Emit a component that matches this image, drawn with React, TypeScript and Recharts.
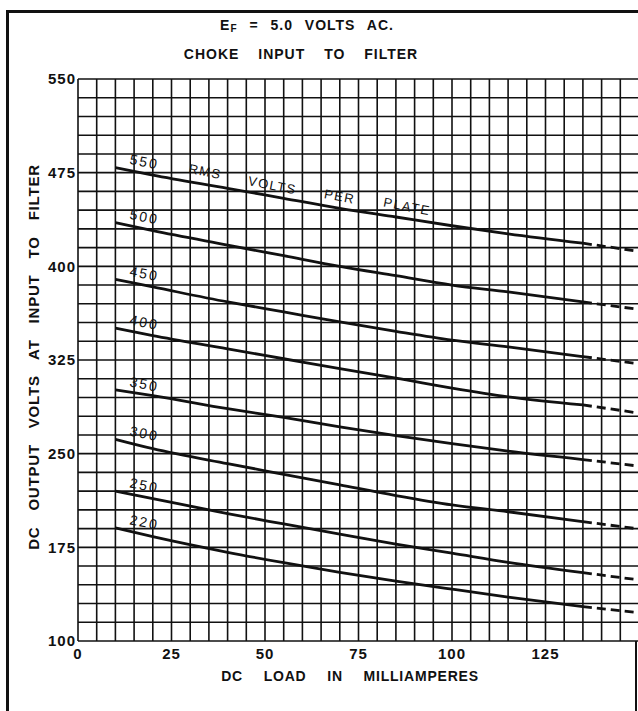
import { LineChart, Line, XAxis, YAxis, CartesianGrid, ReferenceDot, Label, LabelList } from 'recharts'

const loadMa = [10, 20, 40, 55, 70, 85, 100, 115, 135, 150]
// the solid part stops at 135 mA, the rest is dashed
const solidCount = 9

// DC output volts, one list per RMS plate voltage
const v550 = [479, 473, 462.5, 454.5, 446.5, 439.5, 432.5, 426, 418.5, 412]
const v500 = [435, 428.5, 417, 408.5, 400, 392.5, 385, 379.5, 371.5, 365.5]
const v450 = [389.5, 383.5, 371.5, 363.5, 355.5, 348, 341, 335.5, 327.7, 322]
const v400 = [350.5, 344.5, 334, 326, 318, 310.5, 302.5, 295.5, 289, 282.5]
const v350 = [301, 296.5, 286, 279, 271.5, 264.5, 258, 252, 245.3, 240]
const v300 = [261.5, 254, 242, 233.5, 225, 216.5, 209, 203.5, 195.6, 189.7]
const v250 = [220, 214, 202, 193.7, 185.5, 177.5, 170.3, 163, 154.7, 148.9]
const v220 = [190.5, 183.5, 171, 162.7, 155, 148, 141.5, 135.2, 127.5, 122.7]

const rmsVolts = ['550', '500', '450', '400', '350', '300', '250', '220']
const seriesVolts = [v550, v500, v450, v400, v350, v300, v250, v220]

// grid every 5 mA / 15 V, labels every 25 mA / 75 V
const xTicks = [0, 5, 10, 15, 20, 25, 30, 35, 40, 45, 50, 55, 60, 65, 70, 75, 80, 85, 90, 95, 100, 105, 110, 115, 120, 125, 130, 135, 140, 145, 150]
const yTicks = [100, 115, 130, 145, 160, 175, 190, 205, 220, 235, 250, 265, 280, 295, 310, 325, 340, 355, 370, 385, 400, 415, 430, 445, 460, 475, 490, 505, 520, 535, 550]
const xLabels = [0, 25, 50, 75, 100, 125]
const yLabels = [100, 175, 250, 325, 400, 475, 550]

// words written along the 550 V curve (mA, volts)
const captionWords = ['RMS', 'VOLTS', 'PER', 'PLATE']
const captionMa = [34, 52, 70, 88]
const captionV = [476, 465, 456, 448]

const font = "'Liberation Sans', Arial, sans-serif"
const ink = '#111'

const curves = seriesVolts.map((volts, k) => ({
  rms: rmsVolts[k],
  solid: loadMa.slice(0, solidCount).map((ma, i) => ({ ma, v: volts[i] })),
  dashed: loadMa.slice(solidCount - 1).map((ma, i) => ({ ma, v: volts[i + solidCount - 1] })),
}))

const curveTag = (rms: string) => (p: any) => {
  if (p.index !== 0) return null
  const x = p.x + 28
  const y = p.y - 1
  return (
    <text x={x} y={y} transform={`rotate(11 ${x} ${y})`} textAnchor="middle"
      fontFamily={font} fontSize={14} letterSpacing={2} fill={ink}>
      {rms}
    </text>
  )
}

export default function App() {
  return (
    <div style={{ position: 'fixed', left: 0, top: 0, width: 638, height: 711, overflow: 'hidden', background: '#fff' }}>
      <LineChart width={640} height={711} margin={{ top: 79, right: 1, left: 0, bottom: 0 }}>
        <CartesianGrid stroke={ink} strokeWidth={1.6} />
        <XAxis type="number" dataKey="ma" domain={[0, 150]} ticks={xTicks} interval={0} height={70}
          tickFormatter={(v: number) => (xLabels.includes(v) ? String(v) : '')}
          tickSize={0} tickMargin={7} axisLine={false} tickLine={false}
          tick={{ fill: ink, fontSize: 15, fontWeight: 700, fontFamily: font, letterSpacing: 1 }} />
        <YAxis type="number" domain={[100, 550]} ticks={yTicks} interval={0} width={78}
          tickFormatter={(v: number) => (yLabels.includes(v) ? String(v) : '')}
          tickSize={0} tickMargin={2} axisLine={false} tickLine={false}
          tick={{ fill: ink, fontSize: 15, fontWeight: 700, fontFamily: font, letterSpacing: 1 }} />
        {curves.map((c) => (
          <Line key={'s' + c.rms} data={c.solid} dataKey="v" type="monotone" stroke={ink}
            strokeWidth={2.8} dot={false} isAnimationActive={false}>
            <LabelList dataKey="v" content={curveTag(c.rms)} />
          </Line>
        ))}
        {curves.map((c) => (
          <Line key={'d' + c.rms} data={c.dashed} dataKey="v" type="monotone" stroke={ink}
            strokeWidth={2.8} strokeDasharray="9 5" dot={false} isAnimationActive={false} />
        ))}
        {captionWords.map((w, i) => (
          <ReferenceDot key={w} x={captionMa[i]} y={captionV[i]} r={0} fill="none" stroke="none">
            <Label value={w} position="center" angle={11} fill={ink} fontFamily={font}
              fontSize={13} letterSpacing={1.5} />
          </ReferenceDot>
        ))}
      </LineChart>
      <svg width={638} height={711} style={{ position: 'absolute', left: 0, top: 0, pointerEvents: 'none' }}>
        <line x1={7.5} y1={10} x2={7.5} y2={711} stroke={ink} strokeWidth={3} />
        <line x1={6} y1={11.5} x2={638} y2={11.5} stroke={ink} strokeWidth={3} />
        <line x1={636} y1={641} x2={636} y2={711} stroke={ink} strokeWidth={2} />
        <g fontFamily={font} fontWeight={700} fill={ink} style={{ whiteSpace: 'pre' }}>
          <text x={307} y={30} textAnchor="middle" fontSize={14} letterSpacing={1} style={{ wordSpacing: 7 }}>
            E<tspan fontSize={10} dy={2}>F</tspan><tspan dy={-2}>{'  =  5.0  VOLTS  AC.'}</tspan>
          </text>
          <text x={301} y={59} textAnchor="middle" fontSize={14} letterSpacing={1} style={{ wordSpacing: 14 }}>
            CHOKE INPUT TO FILTER
          </text>
          <text x={350} y={681} textAnchor="middle" fontSize={14} letterSpacing={0.8} style={{ wordSpacing: 16 }}>
            DC LOAD IN MILLIAMPERES
          </text>
          <text x={39} y={357} textAnchor="middle" fontSize={15} letterSpacing={0.8} transform="rotate(-90 39 357)" style={{ wordSpacing: 11 }}>
            DC OUTPUT VOLTS AT INPUT TO FILTER
          </text>
        </g>
      </svg>
    </div>
  )
}
